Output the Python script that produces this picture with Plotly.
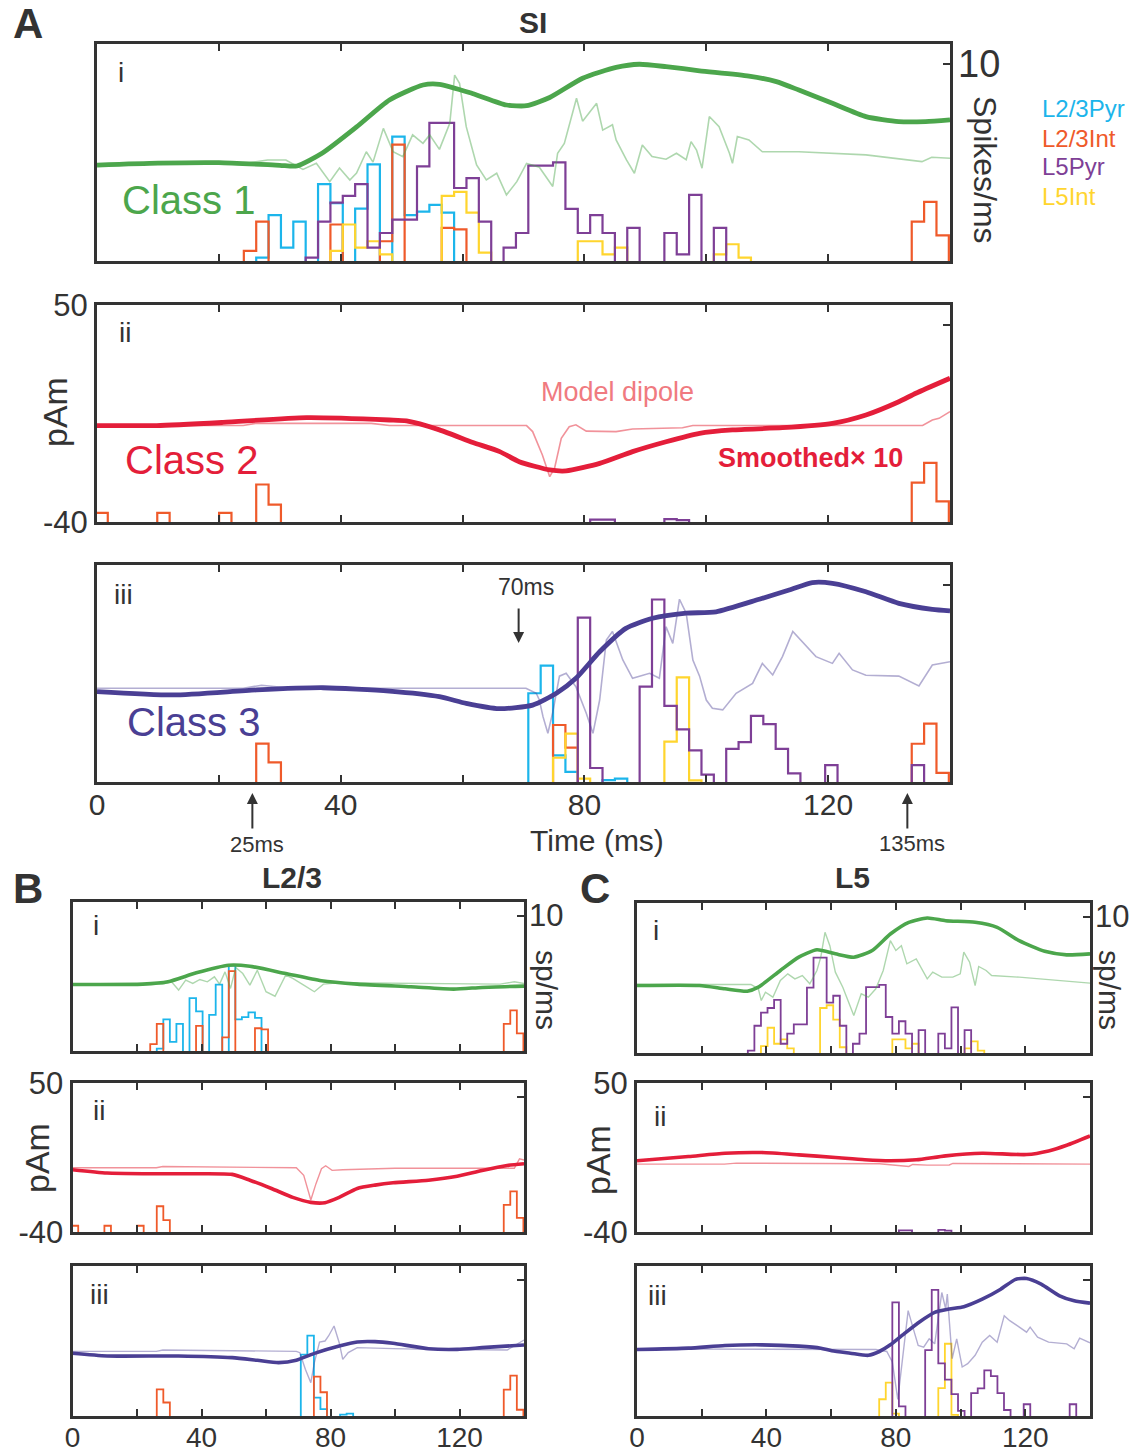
import plotly.graph_objects as go

W, H = 1135, 1454
FONT = "Liberation Sans, Arial, Helvetica, sans-serif"
DARK = "#333333"

# ---------------- colours ----------------
C_L23PYR = "#1CB5EB"
C_L23INT = "#EF5A2A"
C_L5PYR = "#7E3F96"
C_L5INT = "#FFD52E"
C1, C1_THIN = "#4CA64C", "rgba(76,166,76,0.45)"
C2, C2_THIN = "#E41E3A", "rgba(236,110,120,0.75)"
C3, C3_THIN = "#4A3F94", "rgba(74,63,148,0.42)"

# ---------------- histogram data (bin start ms, spikes/ms) ----------------
BIN_W = 2.03
BIN_ORIGIN = -0.26

# Class 1 (panel i)
c1_l23pyr_t = [26.2, 28.4, 30.4, 32.5, 36.5, 38.5, 42.5, 44.5, 48.5, 50.5, 52.5, 54.6, 56.7]
c1_l23pyr_v = [0.17, 2.33, 0.68, 2.0, 3.9, 2.93, 2.66, 4.9, 6.3, 2.33, 2.5, 2.85, 2.45]
c1_l23int_t = [24.1, 26.2, 38.5, 46.5, 48.5, 56.7, 58.7, 133.7, 135.7, 137.8]
c1_l23int_v = [0.51, 2.0, 1.85, 1.0, 5.9, 1.68, 1.6, 2.0, 3.0, 1.3]
c1_l5pyr_t = [34.5, 36.5, 38.5, 40.5, 42.5, 44.5, 46.5, 48.5, 50.5, 52.5, 54.6, 56.7, 58.7, 60.7,
              62.8, 66.9, 68.9, 70.9, 72.9, 74.8, 76.9, 79.0, 81.0, 83.0, 87.1, 93.2, 95.2, 97.2, 101.2]
c1_l5pyr_v = [0.17, 2.0, 2.96, 3.3, 3.9, 0.68, 1.42, 2.1, 2.1, 4.8, 7.0, 7.0, 3.7, 4.2,
              2.0, 0.68, 1.42, 4.83, 4.83, 5.0, 2.64, 1.42, 2.33, 1.42, 1.68, 1.42, 0.34, 3.35, 1.68]
c1_l5int_t = [38.5, 40.5, 42.5, 44.5, 46.5, 56.7, 58.7, 60.7, 62.8, 79.0, 81.0, 83.0, 85.1, 101.2, 103.3, 105.4]
c1_l5int_v = [0.51, 1.85, 0.68, 1.0, 0.34, 3.3, 3.5, 2.45, 0.42, 1.0, 1.0, 0.34, 0.68, 0.34, 0.85, 0.17]

# Class 2 (panel ii)
c2_l23int_t = [0.0, 10.0, 20.1, 26.2, 28.4, 133.7, 135.7, 137.8]
c2_l23int_v = [0.46, 0.46, 0.46, 1.9, 0.88, 2.0, 3.0, 1.05]
c2_l5pyr_t = [81.0, 83.0, 93.2, 95.2]
c2_l5pyr_v = [0.12, 0.12, 0.15, 0.1]

# Class 3 (panel iii)
c3_l23pyr_t = [70.9, 72.9, 74.8, 76.9, 83.0, 85.1]
c3_l23pyr_v = [4.5, 5.9, 1.35, 0.51, 0.1, 0.17]
c3_l23int_t = [26.2, 28.4, 74.8, 76.9, 133.7, 135.7, 137.8]
c3_l23int_v = [1.95, 0.99, 2.89, 1.74, 1.94, 2.96, 0.46]
c3_l5pyr_t = [79.0, 81.0, 89.2, 91.2, 93.2, 95.2, 97.2, 99.2, 103.3, 105.4, 107.4, 109.4, 111.3, 113.4, 119.5, 133.7]
c3_l5pyr_v = [8.33, 0.71, 4.83, 9.25, 3.86, 2.67, 1.6, 0.37, 1.68, 2.02, 3.35, 2.93, 1.68, 0.44, 0.86, 0.86]
c3_l5int_t = [74.8, 76.9, 79.0, 93.2, 95.2, 97.2]
c3_l5int_v = [1.23, 2.45, 0.17, 2.05, 5.3, 0.08]

# ---------------- dipole traces (ms, pAm) ----------------
# A: whole SI
a1_sm_t = [0, 10, 20, 30, 32.8, 37, 42.6, 48, 53.5, 56.2, 61.6, 67.2, 70.5, 74.3, 79.7, 85.2, 89, 93.4,
           98.9, 107, 111.5, 115.2, 120.7, 126.2, 131.6, 136, 140]
a1_sm_v = [-0.2, 0.6, 0.8, -0.3, -0.6, 4.8, 15.6, 26.8, 33, 33.3, 29.5, 24.7, 24.4, 27.8, 35.8, 40.3, 41.6, 40.6,
           38.9, 36.7, 34.4, 30.9, 25.4, 19.9, 17.8, 17.8, 18.5]
a1_md_t = [0, 24, 28, 31, 33.8, 36, 38.2, 39.8, 41.5, 42.6, 44.2, 45.3, 47, 48.6, 50.2, 51.8, 53.5, 54.6, 56.2,
           57.9, 58.7, 59.5, 60.6, 62.3, 63.9, 65.6, 67.2, 68.9, 70.5, 72.6, 74.8, 75.6, 76.7, 77.8, 78.7, 79.7,
           82, 83, 84.6, 85.2, 86.9, 88.2, 89.5, 91.1, 93.4, 95.1, 96.7, 97.5, 98.4, 99.3, 100.5, 102.1, 103.8,
           104.3, 105.1, 107, 109.2, 115.2, 126.2, 135.4, 137, 140]
a1_md_v = [0, 0.3, 1.9, 1.9, -2.0, 0.5, -7.1, -1.4, -6.4, -3.5, 5.3, 1.0, 15, 5.3, 3.3, 12.3, 8.8, 12.3, 6.3,
           17.1, 37.1, 33.7, 15.7, -0.2, -6.4, -3.6, -12.6, -7.1, 0.5, -1.1, -9.1, 4.7, 8.8, 18.5, 27.5, 18,
           25.4, 14.3, 16.5, 10.2, 1.9, -3.6, 8.1, 3.3, 2.2, 4.7, 2.0, 9.5, 6.0, -1.5, 19.9, 15.7, 4.7,
           0.5, 11.6, 10.2, 5.3, 5.3, 4.0, 1.2, 3.0, 2.6]
a2_sm_t = [0, 9.8, 20.7, 34.4, 48, 50.8, 56.2, 61.7, 66.1, 69.3, 74.3, 77, 82.5, 87.9, 93.4, 98.9, 104.3,
           112.5, 120.7, 126.2, 131.6, 134.4, 140]
a2_sm_v = [0, 0, 1.3, 3.3, 2.3, 1.9, -1.8, -7.0, -10.8, -15.0, -18.4, -18.8, -15.7, -10.8, -6.7, -3.2, -1.8,
           -0.9, 0.9, 4.4, 9.9, 13.4, 19.6]
a2_md_t = [0, 24, 26, 45, 48, 70.5, 71.5, 73.1, 74.3, 75.1, 76.2, 77.5, 78.6, 80.3, 85.2, 87.9, 96.1, 97.8,
           135.5, 137.1, 138.2, 140]
a2_md_v = [0, 0, 0.9, 0.9, 0, 0, -2.5, -12.2, -21.2, -17.7, -5.3, -0.5, 0.3, -2.3, -2.5, -1.4, -0.9, 0,
           0, 2.3, 3, 5.8]
a3_sm_t = [0, 12.5, 26.2, 37.1, 48, 56.2, 60.6, 66, 71.5, 75.4, 78.6, 82.5, 86.8, 91.2, 96.7, 101.6, 108.7,
           113.6, 117.4, 120.7, 126.2, 131.6, 137.1, 140]
a3_sm_v = [-2.5, -3.9, -1.8, -0.9, -2.3, -4.6, -7.4, -9.6, -8.1, -3.2, 3.0, 14, 23.7, 27.9, 30, 30.6, 35.8,
           39.6, 42.7, 42.4, 38.9, 34.1, 31.6, 31]
a3_md_t = [0, 24, 27, 32, 70.4, 72.1, 72.6, 73.2, 74, 74.8, 75.9, 77, 78.6, 80.3, 81.4, 82.5, 83.6, 84.6,
           86.3, 87.9, 90.7, 92.3, 93.4, 94.5, 95.6, 96.7, 97.8, 98.9, 100, 101, 102.7, 104.9, 107.6, 109.2,
           110.9, 112.5, 114.2, 115.8, 118, 120.7, 121.8, 124, 126.2, 131.6, 134.9, 137.1, 140]
a3_md_v = [-1.1, -1.1, 0.1, -1.1, -1.1, -3.2, -6, -12.9, -19.8, -11.1, 3.9, 5.1, -0.5, -11.5, -19.8, -6,
           18.9, 22.4, 10.6, 3, 5.1, 3, 24.4, 17.5, 35.8, 30, 10.6, 3.9, -6, -9.4, -10.1, -3.2, 0.9, 9.2,
           4.4, 12, 22.4, 18.2, 12, 9.2, 13.4, 6.5, 4.3, 3.9, -0.2, 8.5, 9.9]

# B: L2/3
b1_sm_t = [0, 21.8, 29.6, 38.4, 48.4, 55, 66.1, 77.2, 88.3, 104.9, 118.2, 127, 140]
b1_sm_v = [0.2, 0.4, 1.8, 7.2, 11.8, 11.2, 6.8, 2.4, 0.4, -1.2, -2.6, -1.6, -0.8]
b1_md_t = [0, 28, 30.7, 32.9, 35.1, 37.3, 39.5, 41.8, 44, 45.6, 47.3, 49, 50.6, 52.8, 55, 57.3, 60, 62.8,
           66.1, 68.3, 71.7, 75, 77.8, 82.7, 132.6, 137, 140]
b1_md_v = [0.4, 0.4, 1.8, -3.2, 2.8, 0.8, 3.2, 1.8, 4.8, 0.4, 7.8, -2.2, 10.4, 6.8, -0.2, 8.8, -4.2, -6.9,
           5.8, 3.8, -0.2, -4.2, 0.4, 1.2, 0.4, 1.8, 0.8]
b2_sm_t = [0, 10.7, 21.8, 38.4, 49.5, 55, 61.7, 68.3, 73.9, 78.3, 82.7, 88.3, 93.8, 99.4, 110.4, 119.3,
           127, 134.8, 140]
b2_sm_v = [-2.4, -4.4, -4.8, -4.8, -5.2, -8.7, -13.7, -19.1, -22.1, -22.3, -19.1, -13.7, -11.7, -10.3,
           -8.7, -6.3, -2.8, 0.2, 1.2]
b2_md_t = [0, 26, 28, 69.4, 71.7, 73.9, 75.5, 77.2, 78.5, 80.5, 83.8, 100, 137, 138.6, 140]
b2_md_v = [-1.2, -1.2, -0.4, -1.2, -5.8, -20.7, -10.8, -1.8, 0, -2.8, -2.4, -1.5, -1.5, 4.2, 3.5]
b3_sm_t = [0, 10.7, 32.9, 49.5, 57.3, 63.9, 69.4, 75, 82.7, 88.3, 93.8, 99.4, 110.4, 119.3, 127, 140]
b3_sm_v = [-2.4, -4, -4, -5, -6.6, -8, -6.6, -2.4, 2, 4.4, 4.6, 3.6, 0.4, 0, 1, 2.6]
b3_md_t = [0, 26, 28, 69.4, 70.5, 72.2, 73.9, 75, 76.6, 78.3, 79.4, 81.1, 82.7, 83.8, 85.5, 88.3, 99.4,
           110.4, 134.8, 138, 140]
b3_md_v = [-1.2, -1.2, -0.4, -1.2, -2, -12, -20, -8, 4.4, 5, 8, 14, 4, -6, -2, 1, 0.4, 0, -0.4, 3, 5.6]

# C: L5
cc1_sm_t = [0, 19.3, 27.2, 34.1, 37.5, 44.3, 50, 55.6, 61.3, 67, 72.7, 78.3, 84, 89.7, 95.4, 104.5, 111.3,
            118.1, 126, 132.8, 140]
cc1_sm_v = [0.5, 0.5, -1.5, -2.9, -0.5, 9.5, 17.5, 21.9, 19.5, 17.5, 21.5, 31.4, 38.4, 41, 39.4, 38.4, 35.4,
            27.4, 21, 18.9, 19.5]
cc1_md_t = [0, 33, 35.2, 37.5, 38.4, 39.7, 42, 44.3, 46.6, 48.8, 51.1, 53.4, 55.6, 56.8, 58.1, 59.6, 61.3,
            63.6, 65.9, 67, 69.3, 71.5, 73.8, 76.1, 78.3, 80, 81.7, 83.4, 86.3, 89.7, 91.4, 94.2, 97.6, 99.9,
            101, 102.8, 104.5, 105.6, 107.9, 109.6, 118.1, 140]
cc1_md_v = [1.1, 1.1, 1.1, -1.5, -8.5, -3.5, -6.5, 3.5, 7.5, 4.5, 6.5, 1.5, 9.5, 17.5, 32.4, 24.4, 8.5,
            -0.5, -11.5, -17.5, -4.5, -6.5, -1.5, 9.5, 27.4, 21.5, 24.4, 13.5, 16.5, 4.5, 8.5, 5.5, 5.5, 7.5,
            20.5, 14.5, 0.5, 11.9, 9.5, 6.5, 5.5, 1.9]
cc2_sm_t = [0, 15.9, 27.2, 38.6, 50, 61.3, 70.4, 78.3, 86.3, 95.4, 106.7, 120.4, 127.2, 132.8, 140]
cc2_sm_v = [3, 5.6, 7.6, 8, 6.6, 5, 3.6, 3, 3.6, 6, 7.6, 6.8, 9, 12.4, 18]
cc2_md_t = [0, 27, 30.7, 74.9, 84, 85.2, 89.7, 96.5, 97.6, 140]
cc2_md_v = [1, 1, 1.6, 1.2, -0.4, 0.8, 0.4, 0.5, 1.4, 1]
cc3_sm_t = [0, 15.9, 27.2, 38.6, 50, 56.8, 60.2, 65.9, 71.5, 74.9, 78.3, 82.9, 87.4, 92, 96.5, 101, 106.7,
            112.4, 117, 120.4, 124.9, 130.6, 135.1, 140]
cc3_sm_v = [-0.1, 0.7, 2.3, 2.7, 1.9, 0.7, -0.9, -2.3, -3.6, -1.3, 2.7, 9.9, 16.6, 22.2, 24.2, 25.6, 30.1,
            36.1, 42, 42.5, 39.1, 32.1, 29.1, 27.7]
cc3_md_t = [0, 60, 73.8, 77.2, 78.9, 80.6, 82.3, 83.8, 85.4, 86.9, 88.6, 90.3, 92, 94.2, 95.4, 95.9, 97.4,
            98.8, 100.5, 102.2, 104.5, 106.7, 109, 111.3, 113.5, 115.2, 117.5, 120.4, 121.5, 123.8, 127.2,
            132.8, 135.1, 136.8, 140]
cc3_md_v = [0.3, 0.3, -0.1, -1.3, -7.6, -30, -3.6, 23.2, 12.3, 2.3, 1.3, 6.3, 3.3, 34.1, 24.2, 33.1, -5.6,
            6.3, -10.6, -8.6, -3.6, 4.3, 8.3, 4.3, 20.2, 17.2, 14.2, 10.3, 13.3, 7.3, 4.3, 3.3, 0.3, 6.7, 3.9]

X_TICKS = [0, 20, 40, 60, 80, 100, 120, 140]
X_TICKTEXT = ["0", "", "40", "", "80", "", "120", ""]


def stairs(starts, heights):
    pairs = sorted((round((s - BIN_ORIGIN) / BIN_W), h) for s, h in zip(starts, heights))
    xs, ys, prev = [], [], None
    for k, h in pairs:
        left = BIN_ORIGIN + k * BIN_W
        if prev is None or k != prev + 1:
            if prev is not None:
                xs += [BIN_ORIGIN + (prev + 1) * BIN_W, None]
                ys += [0, None]
            xs.append(left)
            ys.append(0)
        xs += [left, left + BIN_W]
        ys += [h, h]
        prev = k
    if prev is not None:
        xs.append(BIN_ORIGIN + (prev + 1) * BIN_W)
        ys.append(0)
    return xs, ys


# panel geometry in px: (x0, x1, y0, y1)
panels = [
    dict(box=(97, 950, 44, 261), big=True, row="i"),
    dict(box=(97, 950, 305, 522), big=True, row="ii"),
    dict(box=(97, 950, 565, 782), big=True, row="iii"),
    dict(box=(72.5, 524, 902, 1051), big=False, row="i"),
    dict(box=(72.5, 524, 1083, 1232), big=False, row="ii"),
    dict(box=(72.5, 524, 1266, 1416), big=False, row="iii"),
    dict(box=(637, 1090, 903, 1053), big=False, row="i"),
    dict(box=(637, 1090, 1083, 1232), big=False, row="ii"),
    dict(box=(637, 1090, 1266, 1416), big=False, row="iii"),
]

hists = {
    0: [(c1_l23pyr_t, c1_l23pyr_v, C_L23PYR), (c1_l23int_t, c1_l23int_v, C_L23INT),
        (c1_l5int_t, c1_l5int_v, C_L5INT), (c1_l5pyr_t, c1_l5pyr_v, C_L5PYR)],
    1: [(c2_l23int_t, c2_l23int_v, C_L23INT), (c2_l5pyr_t, c2_l5pyr_v, C_L5PYR)],
    2: [(c3_l23pyr_t, c3_l23pyr_v, C_L23PYR), (c3_l23int_t, c3_l23int_v, C_L23INT),
        (c3_l5int_t, c3_l5int_v, C_L5INT), (c3_l5pyr_t, c3_l5pyr_v, C_L5PYR)],
    3: [(c1_l23pyr_t, c1_l23pyr_v, C_L23PYR), (c1_l23int_t, c1_l23int_v, C_L23INT)],
    4: [(c2_l23int_t, c2_l23int_v, C_L23INT)],
    5: [(c3_l23pyr_t, c3_l23pyr_v, C_L23PYR), (c3_l23int_t, c3_l23int_v, C_L23INT)],
    6: [(c1_l5int_t, c1_l5int_v, C_L5INT), (c1_l5pyr_t, c1_l5pyr_v, C_L5PYR)],
    7: [(c2_l5pyr_t, c2_l5pyr_v, C_L5PYR)],
    8: [(c3_l5int_t, c3_l5int_v, C_L5INT), (c3_l5pyr_t, c3_l5pyr_v, C_L5PYR)],
}
lines = {
    0: (a1_md_t, a1_md_v, a1_sm_t, a1_sm_v, C1_THIN, C1),
    1: (a2_md_t, a2_md_v, a2_sm_t, a2_sm_v, C2_THIN, C2),
    2: (a3_md_t, a3_md_v, a3_sm_t, a3_sm_v, C3_THIN, C3),
    3: (b1_md_t, b1_md_v, b1_sm_t, b1_sm_v, C1_THIN, C1),
    4: (b2_md_t, b2_md_v, b2_sm_t, b2_sm_v, C2_THIN, C2),
    5: (b3_md_t, b3_md_v, b3_sm_t, b3_sm_v, C3_THIN, C3),
    6: (cc1_md_t, cc1_md_v, cc1_sm_t, cc1_sm_v, C1_THIN, C1),
    7: (cc2_md_t, cc2_md_v, cc2_sm_t, cc2_sm_v, C2_THIN, C2),
    8: (cc3_md_t, cc3_md_v, cc3_sm_t, cc3_sm_v, C3_THIN, C3),
}

fig = go.Figure()
layout = {}


def ax_id(n):
    return "" if n == 1 else str(n)


for p, pan in enumerate(panels):
    x0, x1, y0, y1 = pan["box"]
    big = pan["big"]
    xid = ax_id(p + 1)
    yh = ax_id(2 * p + 1)   # histogram axis (base)
    yd = ax_id(2 * p + 2)   # dipole axis (overlay)
    layout["xaxis" + xid] = dict(
        domain=[x0 / W, x1 / W], anchor="y" + yh, range=[0, 140], automargin=False,
        showline=True, linecolor=DARK, linewidth=3, mirror="ticks",
        ticks="inside", ticklen=7, tickwidth=2, tickcolor=DARK,
        tickvals=X_TICKS, ticktext=X_TICKTEXT,
        showticklabels=(pan["row"] == "iii"), ticklabelstandoff=-6,
        tickfont=dict(size=30 if big else 28, color=DARK, family=FONT),
        showgrid=False, zeroline=False, fixedrange=True,
    )
    layout["yaxis" + yh] = dict(
        domain=[1 - y1 / H, 1 - y0 / H], anchor="x" + xid, range=[0, 11], side="right",
        automargin=False,
        showline=False, ticks="inside", ticklen=7, tickwidth=2, tickcolor=DARK,
        tickvals=[10], ticktext=["10"], showticklabels=(pan["row"] == "i"),
        ticklabelstandoff=7 if big else 4,
        tickfont=dict(size=38 if big else 31, color=DARK, family=FONT),
        showgrid=False, zeroline=False, fixedrange=True,
    )
    layout["yaxis" + yd] = dict(
        overlaying="y" + yh, anchor="x" + xid, side="left", range=[-40, 50], automargin=False,
        showline=True, linecolor=DARK, linewidth=3, mirror=True, ticks="",
        tickvals=[-40, 50], ticktext=["-40", "50"], showticklabels=(pan["row"] == "ii"),
        tickfont=dict(size=31, color=DARK, family=FONT),
        showgrid=False, zeroline=False, fixedrange=True,
    )
    for t, v, col in hists[p]:
        hx, hy = stairs(t, v)
        fig.add_trace(go.Scatter(x=hx, y=hy, mode="lines", xaxis="x" + xid, yaxis="y" + yh,
                                 line=dict(color=col, width=2.2 if big else 1.8),
                                 hoverinfo="skip", showlegend=False))
    mt, mv, st, sv, thin_c, thick_c = lines[p]
    fig.add_trace(go.Scatter(x=mt, y=mv, mode="lines", xaxis="x" + xid, yaxis="y" + yd,
                             line=dict(color=thin_c, width=1.6 if big else 1.4),
                             hoverinfo="skip", showlegend=False))
    fig.add_trace(go.Scatter(x=st, y=sv, mode="lines", xaxis="x" + xid, yaxis="y" + yd,
                             line=dict(color=thick_c, width=4.8 if big else 3.6, shape="spline", smoothing=0.6),
                             hoverinfo="skip", showlegend=False))


def P(x, y):
    return x / W, 1 - y / H


annotations = []


def txt(text, x, y, size, color=DARK, bold=False, angle=0, xanchor="center"):
    px, py = P(x, y)
    annotations.append(dict(text=("<b>%s</b>" % text) if bold else text, x=px, y=py,
                            xref="paper", yref="paper", showarrow=False, xanchor=xanchor,
                            yanchor="middle", textangle=angle,
                            font=dict(size=size, color=color, family=FONT)))


# panel letters and titles
txt("A", 28, 24, 42, bold=True)
txt("SI", 533, 23, 30, bold=True)
txt("B", 28, 888, 42, bold=True)
txt("L2/3", 292, 877, 30, bold=True)
txt("C", 595, 888, 42, bold=True)
txt("L5", 852, 877, 30, bold=True)

# row labels
for x, y, s in [(121, 73, "i"), (125, 333, "ii"), (123, 594, "iii"),
                (96, 925, "i"), (99, 1110, "ii"), (99, 1294, "iii"),
                (656, 930, "i"), (660, 1116, "ii"), (657, 1295, "iii")]:
    txt(s, x, y, 28)

txt("Class 1", 188, 200, 40, color=C1)
txt("Class 2", 191, 460, 40, color=C2)
txt("Class 3", 193, 722, 40, color=C3)

txt("Spikes/ms", 985, 170, 32, angle=90)
txt("sp/ms", 547, 990, 30, angle=90)
txt("sp/ms", 1110, 990, 30, angle=90)
txt("pAm", 55, 412, 34, angle=-90)
txt("pAm", 37, 1158, 34, angle=-90)
txt("pAm", 598, 1160, 34, angle=-90)

txt("L2/3Pyr", 1040, 108, 24, color=C_L23PYR, xanchor="left")
txt("L2/3Int", 1040, 138, 24, color=C_L23INT, xanchor="left")
txt("L5Pyr", 1040, 167, 24, color=C_L5PYR, xanchor="left")
txt("L5Int", 1040, 196, 24, color=C_L5INT, xanchor="left")

txt("Model dipole", 618, 392, 27, color="#F07A80")
txt("Smoothed× 10", 810, 458, 27, color=C2, bold=True)

txt("Time (ms)", 597, 840, 30)
txt("70ms", 526, 587, 23)
txt("25ms", 257, 845, 22)
txt("135ms", 912, 843, 22)

# arrows (x in ms on panel A-iii axis)
ARROWS = [(69.2, 643, -36), (25.5, 793, 37), (133.0, 793, 37)]
for xm, ypx, ay in ARROWS:
    annotations.append(dict(x=xm, y=1 - ypx / H, xref="x3", yref="paper", text="", showarrow=True,
                            ax=0, ay=ay, axref="pixel", ayref="pixel", arrowhead=2, arrowsize=1.1,
                            arrowwidth=2, arrowcolor=DARK))

fig.update_layout(**layout)
fig.update_layout(width=W, height=H, margin=dict(l=0, r=0, t=0, b=0, pad=0, autoexpand=False),
                  paper_bgcolor="white", plot_bgcolor="rgba(0,0,0,0)",
                  showlegend=False, annotations=annotations,
                  font=dict(family=FONT, color=DARK))
fig.write_html("out.html")
